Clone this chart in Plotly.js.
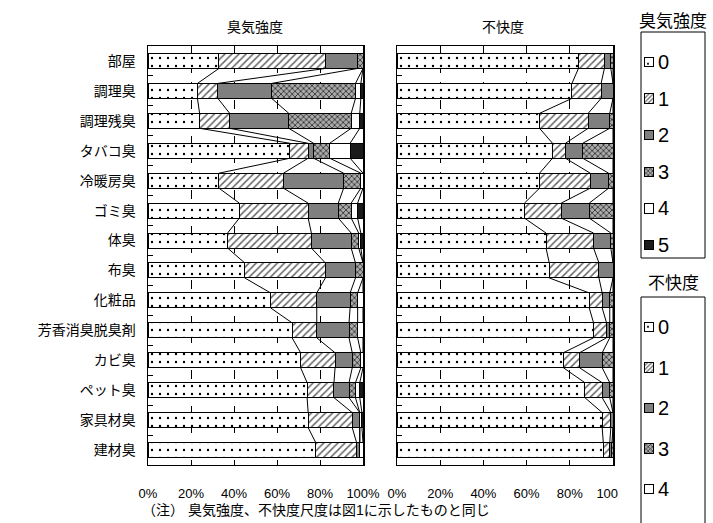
<!DOCTYPE html>
<html>
<head>
<meta charset="utf-8">
<script src="https://cdn.plot.ly/plotly-3.0.1.min.js"></script>
<style>html,body{margin:0;padding:0;background:#fff;}#chart{width:713px;height:523px;}</style>
</head>
<body>
<div id="chart"></div>
<script>
// ---- data ----
const categories = ['部屋','調理臭','調理残臭','タバコ臭','冷暖房臭','ゴミ臭','体臭','布臭','化粧品','芳香消臭脱臭剤','カビ臭','ペット臭','家具材臭','建材臭'];

// 臭気強度 (odor intensity) levels 0..5, % of responses
const odorLevels = ['0','1','2','3','4','5'];
const odor0 = [33, 23, 24, 66, 33, 42.5, 37, 45, 57, 67, 71, 74, 74.5, 78];
const odor1 = [49.5, 9.5, 14, 8.5, 30, 32, 39, 37.5, 21.5, 11.5, 16, 12.5, 20.5, 19];
const odor2 = [15, 25, 27.5, 2.5, 28, 14, 18.5, 14, 15.5, 15, 8, 7, 3.5, 1.5];
const odor3 = [2.5, 39, 29, 7.5, 8, 6, 3.5, 3.5, 3.5, 4, 4, 3, 0, 0];
const odor4 = [0, 2.5, 4, 9.5, 1, 3, 1, 0, 2.5, 2.5, 1, 2, 1, 1.5];
const odor5 = [0, 1, 1.5, 6, 0, 2.5, 1, 0, 0, 0, 0, 1.5, 0.5, 0];

// 不快度 (discomfort) levels 0..4
const discLevels = ['0','1','2','3','4'];
const disc0 = [84, 81, 66, 72, 66, 59, 69, 70.5, 89, 91, 77, 87, 95, 95.5];
const disc1 = [12, 13.5, 22.5, 6, 23.5, 17, 22, 23, 6, 6, 7.5, 8, 4, 3];
const disc2 = [3, 5.5, 10, 8, 8.5, 13, 8, 6.5, 3.5, 1.5, 10.5, 3.5, 1, 1];
const disc3 = [1, 0, 1.5, 14, 2, 11, 1, 0, 1.5, 1.5, 5, 1.5, 0, 0.5];
const disc4 = [0, 0, 0, 0, 0, 0, 0, 0, 0, 0, 0, 0, 0, 0];

const xTicks = [0, 20, 40, 60, 80, 100];
const xTickTextL = ['0%','20%','40%','60%','80%','100%'];
const xTickTextR = ['0%','20%','40%','60%','80%','100<span style="fill:white">%</span>'];

// ---- styles ----
const FONT = 'Liberation Sans, Noto Sans CJK JP, sans-serif';
const styles = [
  {color:'white', pattern:{shape:'.', fgcolor:'#000', bgcolor:'white', size:8, solidity:0.07}},
  {color:'white', pattern:{shape:'/', fgcolor:'#666', bgcolor:'white', size:5, solidity:0.3}},
  {color:'#7f7f7f'},
  {color:'#999', pattern:{shape:'x', fgcolor:'#222', bgcolor:'#aaa', size:4, solidity:0.35}},
  {color:'white'},
  {color:'#1a1a1a'}
];
const iconStyles = [
  {color:'white', pattern:{shape:'.', fgcolor:'#000', bgcolor:'white', size:8, solidity:0.06}},
  {color:'white', pattern:{shape:'/', fgcolor:'#666', bgcolor:'white', size:3, solidity:0.4}},
  {color:'#7f7f7f'},
  {color:'#999', pattern:{shape:'x', fgcolor:'#222', bgcolor:'#aaa', size:3, solidity:0.4}},
  {color:'white'},
  {color:'#1a1a1a'}
];

const yIdx = categories.map((c,i)=>i);
const BW = 0.5;

function makeBars(series, levels, xa, ya){
  return series.map((vals,k)=>({
    type:'bar', orientation:'h', x:vals, y:yIdx, width:BW,
    name:levels[k], xaxis:xa, yaxis:ya,
    marker:Object.assign({line:{color:'#000', width:1}}, styles[k]),
    hoverinfo:'x+name', showlegend:false
  }));
}

function makeSeriesLines(series, xa, ya){
  const xs=[], ys=[];
  const n = categories.length;
  const cum = [];
  for(let i=0;i<n;i++){
    let s=0; const row=[];
    for(let k=0;k<series.length-1;k++){ s+=series[k][i]; row.push(s); }
    cum.push(row);
  }
  for(let k=0;k<series.length-1;k++){
    for(let i=0;i<n-1;i++){
      xs.push(cum[i][k], cum[i+1][k], null);
      ys.push(i+BW/2, i+1-BW/2, null);
    }
  }
  return {type:'scatter', mode:'lines', x:xs, y:ys, xaxis:xa, yaxis:ya,
    line:{color:'#000', width:1}, showlegend:false, hoverinfo:'skip'};
}

// legend icons drawn as small bars on hidden axes (1 unit = icon width)
function makeIcons(levels, xa, ya, w){
  return levels.map((lv,k)=>({
    type:'bar', orientation:'h', x:[1], y:[k], width:w, xaxis:xa, yaxis:ya,
    marker:Object.assign({line:{color:'#000', width:1}}, iconStyles[k]),
    showlegend:false, hoverinfo:'skip'
  }));
}

const odorSeries = [odor0, odor1, odor2, odor3, odor4, odor5];
const discSeries = [disc0, disc1, disc2, disc3, disc4];

const data = [
  ...makeBars(odorSeries, odorLevels, 'x', 'y'),
  makeSeriesLines(odorSeries, 'x', 'y'),
  ...makeBars(discSeries, discLevels, 'x2', 'y2'),
  makeSeriesLines(discSeries, 'x2', 'y2'),
  ...makeIcons(odorLevels, 'x3', 'y3', 0.26),
  ...makeIcons(discLevels, 'x4', 'y4', 0.23)
];

const W=713, H=523;
const yDom = [1-465/H, 1-46/H];
const xAxisBase = {
  range:[0,100], tickvals:xTicks, ticks:'inside', ticklen:5, tickcolor:'#000',
  showgrid:true, gridcolor:'#000', gridwidth:1, griddash:'dash',
  showline:true, linecolor:'#000', linewidth:1, mirror:true, zeroline:false,
  tickfont:{size:13, color:'#000', family:FONT}, ticklabelstandoff:16, fixedrange:true
};
const minorY = {tickvals: categories.slice(1).map((c,i)=>i+0.5), ticks:'inside', ticklen:5, tickcolor:'#000', showgrid:false};
const hidden = {visible:false, fixedrange:true, showgrid:false, zeroline:false};

// legend geometry (pixels)
const L1top = 62, L1step = 36.6, L2top = 327, L2step = 40.5;
const iconX0 = 644, iconW = 9, legAxW = 56;

const legendText = [];
odorLevels.forEach((lv,k)=>legendText.push({text:lv, xref:'x3', yref:'y3', x:1.3, y:k, xanchor:'left', yanchor:'middle', showarrow:false, font:{size:20}}));
discLevels.forEach((lv,k)=>legendText.push({text:lv, xref:'x4', yref:'y4', x:1.3, y:k, xanchor:'left', yanchor:'middle', showarrow:false, font:{size:20}}));

const layout = {
  width:W, height:H, margin:{l:0,r:0,t:0,b:0},
  paper_bgcolor:'white', plot_bgcolor:'rgba(0,0,0,0)',
  barmode:'stack', showlegend:false,
  font:{family:FONT, color:'#000'},
  xaxis:Object.assign({}, xAxisBase, {domain:[148/W, 363/W], anchor:'y', ticktext:xTickTextL}),
  xaxis2:Object.assign({}, xAxisBase, {domain:[397/W, 613/W], anchor:'y2', ticktext:xTickTextR}),
  yaxis:{domain:yDom, anchor:'x', range:[categories.length-0.5, -0.5], tickvals:yIdx, ticktext:categories,
    ticks:'', showgrid:false, zeroline:false, showline:true, linecolor:'#000', linewidth:1.5, mirror:true,
    tickfont:{size:14, color:'#000', family:FONT}, ticklabelstandoff:8, minor:minorY, fixedrange:true},
  yaxis2:{domain:yDom, anchor:'x2', range:[categories.length-0.5, -0.5], tickvals:yIdx, showticklabels:false,
    ticks:'', showgrid:false, zeroline:false, showline:true, linecolor:'#000', linewidth:1.5, mirror:true,
    minor:minorY, fixedrange:true},
  xaxis3:Object.assign({}, hidden, {domain:[iconX0/W, (iconX0+legAxW)/W], range:[0, legAxW/iconW], anchor:'y3'}),
  yaxis3:Object.assign({}, hidden, {domain:[1-(L1top+L1step*5.5)/H, 1-(L1top-L1step*0.5)/H], range:[5.5,-0.5], anchor:'x3'}),
  xaxis4:Object.assign({}, hidden, {domain:[iconX0/W, (iconX0+legAxW)/W], range:[0, legAxW/iconW], anchor:'y4'}),
  yaxis4:Object.assign({}, hidden, {domain:[1-(L2top+L2step*4.5)/H, 1-(L2top-L2step*0.5)/H], range:[4.5,-0.5], anchor:'x4'}),
  shapes:[
    {type:'rect', xref:'paper', yref:'paper', x0:641/W, x1:705/W, y0:1-258/H, y1:1-32/H, line:{color:'#000', width:1}},
    {type:'rect', xref:'paper', yref:'paper', x0:641/W, x1:705/W, y0:-0.05, y1:1-297/H, line:{color:'#000', width:1}}
  ],
  annotations:[
    {text:'臭気強度', xref:'paper', yref:'paper', x:255/W, y:1-27/H, showarrow:false, font:{size:14}, xanchor:'center', yanchor:'middle'},
    {text:'不快度', xref:'paper', yref:'paper', x:503/W, y:1-27/H, showarrow:false, font:{size:14}, xanchor:'center', yanchor:'middle'},
    {text:'臭気強度', xref:'paper', yref:'paper', x:673/W, y:1-22/H, showarrow:false, font:{size:17}, xanchor:'center', yanchor:'middle'},
    {text:'不快度', xref:'paper', yref:'paper', x:673/W, y:1-283/H, showarrow:false, font:{size:17}, xanchor:'center', yanchor:'middle'},
    {text:'（注） 臭気強度、不快度尺度は図1に示したものと同じ', xref:'paper', yref:'paper', x:140/W, y:1-510/H, showarrow:false, font:{size:14}, xanchor:'left', yanchor:'middle'},
    ...legendText
  ]
};

Plotly.newPlot('chart', data, layout, {displayModeBar:false, staticPlot:true});
</script>
</body>
</html>
